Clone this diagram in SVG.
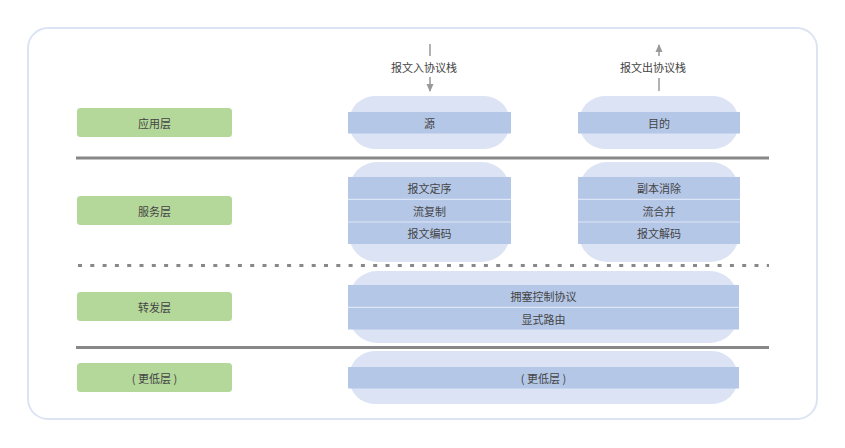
<svg xmlns="http://www.w3.org/2000/svg" width="845" height="448" viewBox="0 0 845 448">
<defs>
<style>
text{font-family:"Noto Sans CJK SC","Liberation Sans",sans-serif;font-size:11px;fill:#444;text-anchor:middle;dominant-baseline:central}
.layer{fill:#b4d79a}
.pill{fill:#dbe3f4}
.band{fill:#b4c7e7}
.sep{stroke:#dde6f6;stroke-width:1.2}
.solid{stroke:#888;stroke-width:3}
.dot{stroke:#888;stroke-width:3;stroke-dasharray:4 8.3}
.arr{stroke:#999;stroke-width:1.5;fill:none}
</style>
<marker id="ah" viewBox="0 0 8 8" refX="7" refY="4" markerWidth="8" markerHeight="8" markerUnits="userSpaceOnUse" orient="auto">
<path d="M0,0.5 L8,4 L0,7.5 z" fill="#999"/>
</marker>
</defs>
<rect x="0" y="0" width="845" height="448" fill="#fff"/>
<rect id="frame" x="28" y="28" width="789" height="391" rx="20" fill="#fff" stroke="#dce4f4" stroke-width="2"/>

<g id="dividers">
<line class="solid" x1="76" y1="158" x2="769" y2="158"/>
<line class="dot" x1="78" y1="265.5" x2="769" y2="265.5"/>
<line class="solid" x1="76" y1="347.5" x2="769" y2="347.5"/>
</g>

<g id="layer-app"><rect class="layer" x="77" y="108" width="155" height="29" rx="3.5"/><text x="154.5" y="122.5">应用层</text></g>
<g id="layer-svc"><rect class="layer" x="77" y="196" width="155" height="29" rx="3.5"/><text x="154.5" y="210.5">服务层</text></g>
<g id="layer-fwd"><rect class="layer" x="77" y="292" width="155" height="29" rx="3.5"/><text x="154.5" y="306.5">转发层</text></g>
<g id="layer-low"><rect class="layer" x="77" y="363" width="155" height="29" rx="3.5"/><text x="154.5" y="377.5">( 更低层 )</text></g>

<g id="src">
<rect class="pill" x="349" y="96" width="161" height="53" rx="26"/>
<rect class="band" x="348" y="112" width="163" height="21.5"/>
<text x="429.5" y="123">源</text>
</g>
<g id="dst">
<rect class="pill" x="579" y="96" width="160" height="53" rx="26"/>
<rect class="band" x="578" y="112" width="162" height="21.5"/>
<text x="659" y="123">目的</text>
</g>

<g id="svc-left">
<rect class="pill" x="349" y="162" width="161" height="100" rx="28"/>
<rect class="band" x="348" y="177" width="163" height="67"/>
<line class="sep" x1="348" y1="199.3" x2="511" y2="199.3"/>
<line class="sep" x1="348" y1="222" x2="511" y2="222"/>
<text x="429.5" y="188">报文定序</text>
<text x="429.5" y="210.5">流复制</text>
<text x="429.5" y="233">报文编码</text>
</g>
<g id="svc-right">
<rect class="pill" x="579" y="162" width="160" height="100" rx="28"/>
<rect class="band" x="578" y="177" width="162" height="67"/>
<line class="sep" x1="578" y1="199.3" x2="740" y2="199.3"/>
<line class="sep" x1="578" y1="222" x2="740" y2="222"/>
<text x="659" y="188">副本消除</text>
<text x="659" y="210.5">流合并</text>
<text x="659" y="233">报文解码</text>
</g>

<g id="fwd">
<rect class="pill" x="349" y="271" width="389" height="72" rx="28"/>
<rect class="band" x="348" y="285" width="391" height="44.5"/>
<line class="sep" x1="348" y1="307.3" x2="739" y2="307.3"/>
<text x="543.5" y="296">拥塞控制协议</text>
<text x="543.5" y="318.5">显式路由</text>
</g>

<g id="low">
<rect class="pill" x="349" y="351" width="389" height="53" rx="26"/>
<rect class="band" x="348" y="367" width="391" height="21.5"/>
<text x="543.5" y="378">( 更低层 )</text>
</g>

<g id="connectors">
<line class="arr" x1="430" y1="44" x2="430" y2="56"/>
<line class="arr" x1="430" y1="77" x2="430" y2="91" marker-end="url(#ah)"/>
<line class="arr" x1="659" y1="56" x2="659" y2="45" marker-end="url(#ah)"/>
<line class="arr" x1="659" y1="78" x2="659" y2="91"/>
</g>
<g id="labels">
<text x="424" y="67">报文入协议栈</text>
<text x="653" y="67">报文出协议栈</text>
</g>
</svg>
